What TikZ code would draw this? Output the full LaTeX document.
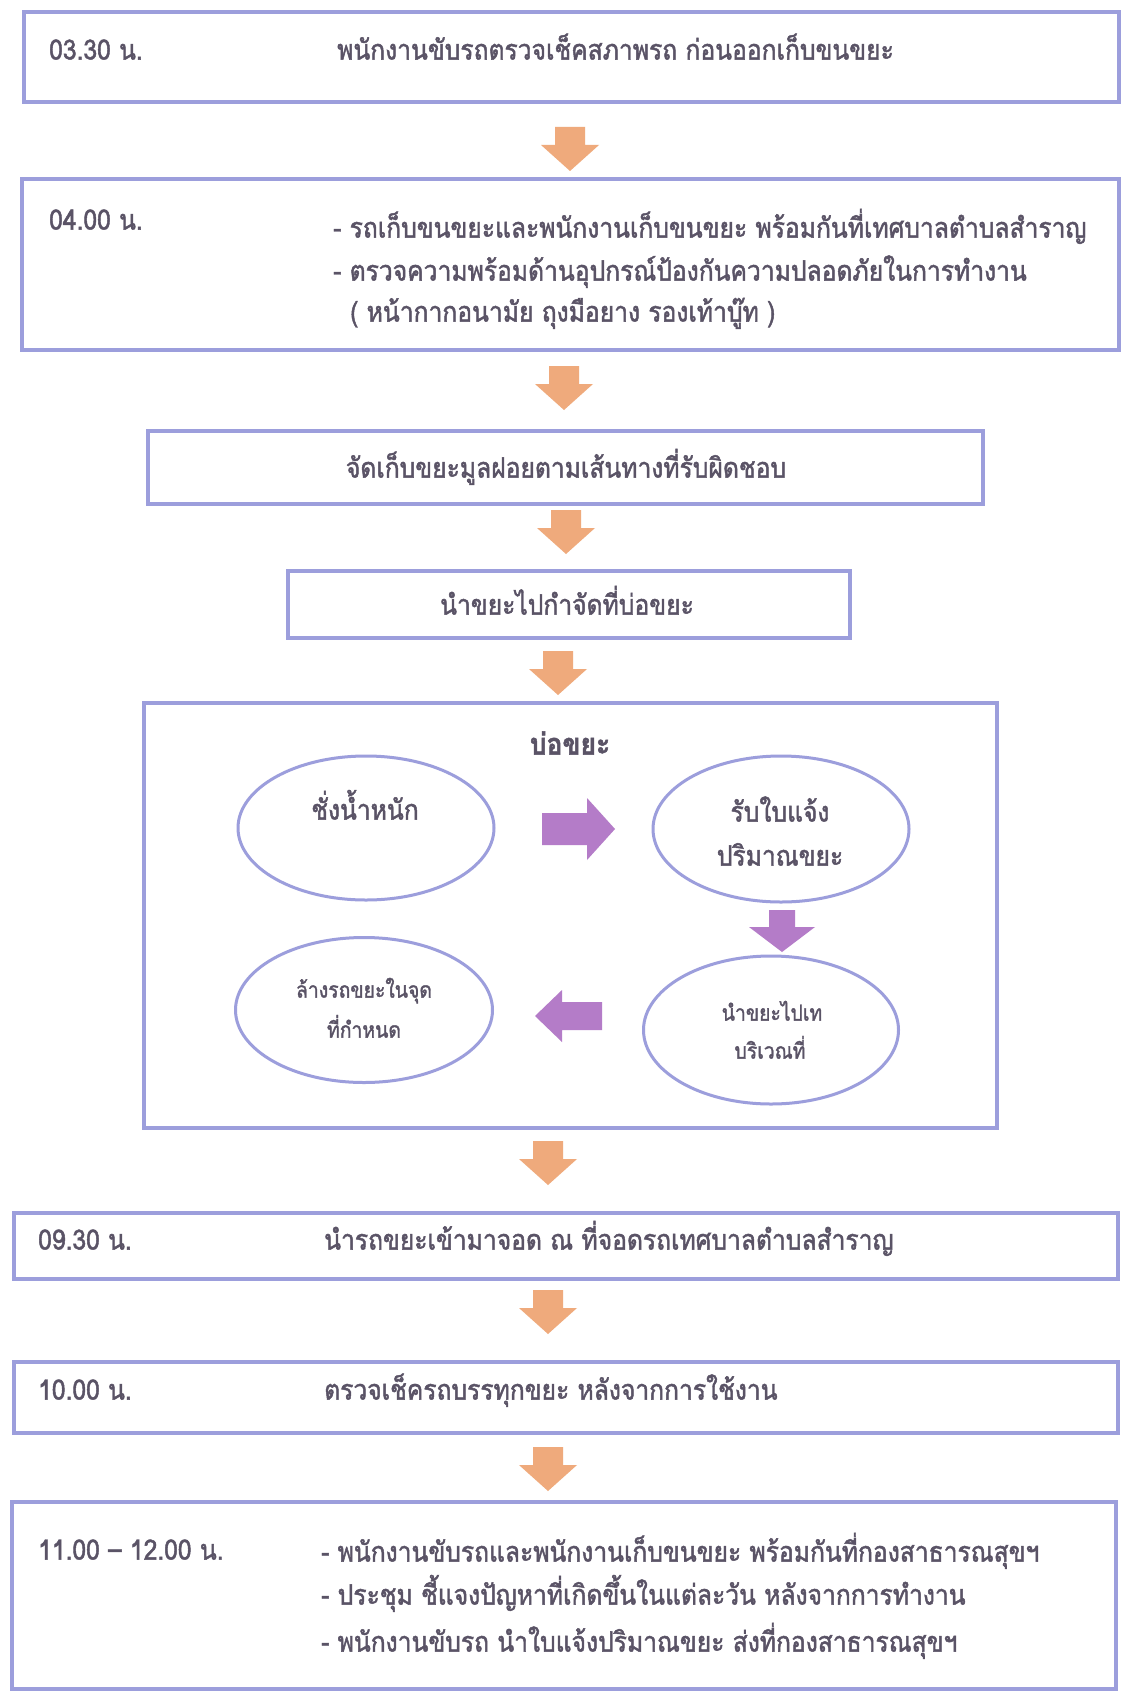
\documentclass[tikz,border=0pt]{standalone}
\usepackage{fontspec}
\setmainfont[Script=Thai,FakeStretch=0.88,FakeBold=1.6]{Loma}
\usetikzlibrary{fit,shapes.geometric}
\definecolor{boxline}{HTML}{9C9EDC}
\definecolor{orfill}{HTML}{EFAA7C}
\definecolor{pufill}{HTML}{B47CC8}
\definecolor{txtcol}{HTML}{5A5366}
\begin{document}
\begin{tikzpicture}[x=1pt,y=-1pt,
  box/.style={draw=boxline, line width=3.5pt, inner sep=0pt},
  ell/.style={draw=boxline, line width=3pt, ellipse, inner sep=0pt},
  txt/.style={text=txtcol, font=\fontsize{28}{32}\selectfont, inner sep=0pt},
  stxt/.style={text=txtcol, font=\fontsize{22}{26}\selectfont, inner sep=0pt},
  ttxt/.style={text=txtcol, font=\bfseries\fontsize{30}{34}\selectfont, inner sep=0pt},
  orarrow/.pic={\fill[orfill] (-15,0) -- (15,0) -- (15,18) -- (29,18) -- (0,44) -- (-29,18) -- (-15,18) -- cycle;},
  purright/.pic={\fill[pufill] (0,-16) -- (45,-16) -- (45,-31) -- (73,0) -- (45,31) -- (45,16) -- (0,16) -- cycle;},
  purdown/.pic={\fill[pufill] (-13,0) -- (13,0) -- (13,17) -- (33,17) -- (0,42) -- (-33,17) -- (-13,17) -- cycle;},
  purleft/.pic={\fill[pufill] (0,-14) -- (-40,-14) -- (-40,-26) -- (-67,0) -- (-40,26) -- (-40,14) -- (0,14) -- cycle;}
]
\useasboundingbox[fill=white] (0,0) rectangle (1121,1693);

% boxes
\node[box, fit={(24,12) (1119,102)}] (b1) {};
\node[box, fit={(22,179) (1119,350)}] (b2) {};
\node[box, fit={(148,431) (983,504)}] (b3) {};
\node[box, fit={(288,571) (850,638)}] (b4) {};
\node[box, fit={(144,703) (997,1128)}] (b5) {};
\node[box, fit={(14,1213) (1118,1279)}] (b6) {};
\node[box, fit={(14,1362) (1118,1433)}] (b7) {};
\node[box, fit={(12,1502) (1116,1689)}] (b8) {};

% orange arrows
\pic at (570,127) {orarrow};
\pic at (564,366) {orarrow};
\pic at (566,510) {orarrow};
\pic at (558,651) {orarrow};
\pic at (548,1141) {orarrow};
\pic at (548,1290) {orarrow};
\pic at (548,1447) {orarrow};

% box 1
\node[txt, anchor=mid west] (t1a) at (49,57) {03.30 น.};
\node[txt, anchor=mid west] (t1b) at (337,57) {พนักงานขับรถตรวจเช็คสภาพรถ ก่อนออกเก็บขนขยะ};

% box 2
\node[txt, anchor=mid west] (t2a) at (49,227) {04.00 น.};
\node[txt, anchor=mid west] (t2b) at (333,235) {- รถเก็บขนขยะและพนักงานเก็บขนขยะ พร้อมกันที่เทศบาลตำบลสำราญ};
\node[txt, anchor=mid west] (t2c) at (333,278) {- ตรวจความพร้อมด้านอุปกรณ์ป้องกันความปลอดภัยในการทำงาน};
\node[txt, anchor=mid west] (t2d) at (350,319) {( หน้ากากอนามัย ถุงมือยาง รองเท้าบู๊ท )};

% box 3, 4
\node[txt, anchor=mid] (t3) at (566,475) {จัดเก็บขยะมูลฝอยตามเส้นทางที่รับผิดชอบ};
\node[txt, anchor=mid] (t4) at (567,612) {นำขยะไปกำจัดที่บ่อขยะ};

% box 5
\node[ttxt, anchor=mid] (t5) at (570,752) {บ่อขยะ};
\node[ell, minimum width=256pt, minimum height=144pt] (e1) at (366,828) {};
\node[ell, minimum width=256pt, minimum height=146pt] (e2) at (781,829) {};
\node[ell, minimum width=255pt, minimum height=148pt] (e3) at (771,1030) {};
\node[ell, minimum width=257pt, minimum height=145pt] (e4) at (364,1010) {};
\node[txt, anchor=mid] (e1t) at (365,817) {ชั่งน้ำหนัก};
\node[txt, anchor=mid] (e2t) at (780,819) {รับใบแจ้ง};
\node[txt, anchor=mid] (e2u) at (780,863) {ปริมาณขยะ};
\node[stxt, anchor=mid] (e3t) at (772,1018) {นำขยะไปเท};
\node[stxt, anchor=mid] (e3u) at (770,1056) {บริเวณที่};
\node[stxt, anchor=mid] (e4t) at (364,995) {ล้างรถขยะในจุด};
\node[stxt, anchor=mid] (e4u) at (364,1035) {ที่กำหนด};

% purple arrows
\pic at (542,829) {purright};
\pic at (782,910) {purdown};
\pic at (602,1016) {purleft};

% box 6, 7
\node[txt, anchor=mid west] (t6a) at (38,1247) {09.30 น.};
\node[txt, anchor=mid west] (t6b) at (324,1247) {นำรถขยะเข้ามาจอด ณ ที่จอดรถเทศบาลตำบลสำราญ};
\node[txt, anchor=mid west] (t7a) at (38,1397) {10.00 น.};
\node[txt, anchor=mid west] (t7b) at (324,1397) {ตรวจเช็ครถบรรทุกขยะ หลังจากการใช้งาน};

% box 8
\node[txt, anchor=mid west] (t8a) at (38,1557) {11.00 – 12.00 น.};
\node[txt, anchor=mid west] (t8b) at (321,1559) {- พนักงานขับรถและพนักงานเก็บขนขยะ พร้อมกันที่กองสาธารณสุขฯ};
\node[txt, anchor=mid west] (t8c) at (321,1602) {- ประชุม ชี้แจงปัญหาที่เกิดขึ้นในแต่ละวัน หลังจากการทำงาน};
\node[txt, anchor=mid west] (t8d) at (321,1649) {- พนักงานขับรถ นำใบแจ้งปริมาณขยะ ส่งที่กองสาธารณสุขฯ};
\end{tikzpicture}
\end{document}
